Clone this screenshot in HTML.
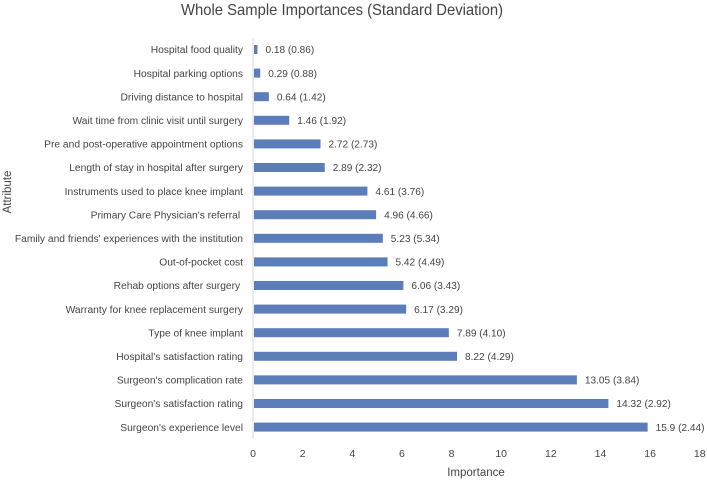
<!DOCTYPE html>
<html lang="en">
<head>
<meta charset="utf-8">
<title>Whole Sample Importances</title>
<style>
  html, body { margin: 0; padding: 0; background: #fff; }
  svg { display: block; font-family: "Liberation Sans", sans-serif; }
  text { fill: #444; white-space: pre; }
</style>
</head>
<body>
<svg id="chart" width="707" height="480" viewBox="0 0 707 480" xmlns="http://www.w3.org/2000/svg">
  <text x="181" y="15" font-size="16" textLength="322" lengthAdjust="spacingAndGlyphs">Whole Sample Importances (Standard Deviation)</text>
  <text transform="translate(11,192) rotate(-90)" font-size="11.5" text-anchor="middle">Attribute</text>
  <text x="476" y="476" font-size="11.5" text-anchor="middle">Importance</text>
  <line x1="253" y1="38" x2="253" y2="439" stroke="#d9d9d9" stroke-width="1"></line>
  <g id="bars"></g>
  <g id="xticks"></g>
</svg>
<script>
const categories = [
  "Hospital food quality",
  "Hospital parking options",
  "Driving distance to hospital",
  "Wait time from clinic visit until surgery",
  "Pre and post-operative appointment options",
  "Length of stay in hospital after surgery",
  "Instruments used to place knee implant",
  "Primary Care Physician's referral ",
  "Family and friends' experiences with the institution",
  "Out-of-pocket cost",
  "Rehab options after surgery ",
  "Warranty for knee replacement surgery",
  "Type of knee implant",
  "Hospital's satisfaction rating",
  "Surgeon's complication rate",
  "Surgeon's satisfaction rating",
  "Surgeon's experience level"
];
const importance = [0.18, 0.29, 0.64, 1.46, 2.72, 2.89, 4.61, 4.96, 5.23, 5.42, 6.06, 6.17, 7.89, 8.22, 13.05, 14.32, 15.9];
const stdDev = [0.86, 0.88, 1.42, 1.92, 2.73, 2.32, 3.76, 4.66, 5.34, 4.49, 3.43, 3.29, 4.10, 4.29, 3.84, 2.92, 2.44];
const xTicks = [0, 2, 4, 6, 8, 10, 12, 14, 16, 18];

const SVG_NS = "http://www.w3.org/2000/svg";
const xScale = v => 253 + v * 24.82;
const yScale = i => 49.5 + i * 23.6;
const BAR_H = 9;

function makeText(str, x, y, anchor, size) {
  const t = document.createElementNS(SVG_NS, "text");
  t.setAttribute("x", x);
  t.setAttribute("y", y);
  t.setAttribute("font-size", size);
  t.setAttribute("text-anchor", anchor);
  t.textContent = str;
  return t;
}

const barsGroup = document.getElementById("bars");
categories.forEach((cat, i) => {
  const cy = yScale(i);

  const label = makeText(cat, 243, cy + 3.7, "end", "10.25");
  
  
  barsGroup.appendChild(label);

  const bar = document.createElementNS(SVG_NS, "rect");
  bar.setAttribute("x", 254);
  bar.setAttribute("y", cy - BAR_H / 2);
  bar.setAttribute("width", Math.max(0, xScale(importance[i]) - 254));
  bar.setAttribute("height", BAR_H);
  bar.setAttribute("fill", "#5b7db9");
  
  
  barsGroup.appendChild(bar);

  const value = makeText(importance[i] + " (" + stdDev[i].toFixed(2) + ")", xScale(importance[i]) + 8, cy + 3.7, "start", "10.1");
  
  
  barsGroup.appendChild(value);
});

const ticksGroup = document.getElementById("xticks");
xTicks.forEach(tick => {
  const t = makeText(String(tick), xScale(tick), 457, "middle", "10.5");
  
  
  ticksGroup.appendChild(t);
});
</script>
</body>
</html>
